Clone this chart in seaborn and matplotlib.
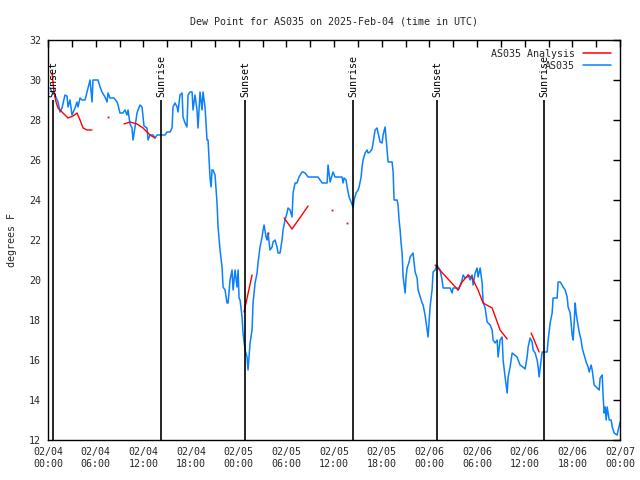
import matplotlib
matplotlib.use('Agg')
import matplotlib.pyplot as plt
import matplotlib.dates as mdates
import seaborn as sns
import pandas as pd
import numpy as np

# hours since 2025-02-04 00:00 UTC
obs_hours = [0.25, 0.50, 0.88, 1.26, 1.51, 1.76, 2.14, 2.39, 2.52, 2.77, 3.02, 3.40, 3.65, 3.78,
             4.03, 4.28, 4.66, 4.91, 5.03, 5.29, 5.54, 5.66, 6.29, 6.55, 6.80, 7.17, 7.43, 7.55,
             7.80, 8.31, 8.69, 8.81, 9.06, 9.44, 9.69, 9.94, 10.07, 10.32, 10.57, 10.70, 10.95,
             11.20, 11.33, 11.58, 11.83, 12.08, 12.46, 12.59, 12.84, 13.22, 13.47, 13.72, 14.73,
             14.98, 15.36, 15.61, 15.73, 15.99, 16.24, 16.36, 16.61, 16.87, 16.99, 17.24, 17.49,
             17.62, 17.87, 18.13, 18.25, 18.50, 18.75, 18.88, 19.13, 19.38, 19.51, 19.76, 20.01,
             20.14, 20.26, 20.39, 20.52, 20.64, 20.77, 21.02, 21.27, 21.40, 21.65, 21.90, 22.03,
             22.28, 22.53, 22.66, 22.91, 23.16, 23.29, 23.54, 23.79, 23.92, 24.04, 24.17, 24.42,
             24.54, 24.80, 25.05, 25.17, 25.43, 25.68, 25.80, 26.06, 26.31, 26.43, 26.68, 26.94,
             27.06, 27.19, 27.44, 27.57, 27.69, 27.94, 28.20, 28.32, 28.57, 28.82, 28.95, 29.20,
             29.45, 29.58, 29.83, 30.08, 30.21, 30.46, 30.71, 30.84, 31.09, 31.34, 31.59, 31.97,
             32.10, 32.35, 32.73, 33.98, 34.24, 34.49, 35.12, 35.24, 35.50, 35.75, 35.87, 36.12,
             37.01, 37.13, 37.26, 37.51, 37.64, 37.89, 38.14, 38.39, 38.52, 38.77, 39.02, 39.15,
             39.40, 39.52, 39.65, 39.90, 40.15, 40.28, 40.53, 40.78, 40.91, 41.16, 41.41, 41.54,
             41.79, 42.04, 42.17, 42.42, 42.67, 42.80, 43.30, 43.43, 43.55, 43.93, 44.05, 44.18,
             44.31, 44.43, 44.56, 44.69, 44.94, 45.06, 45.19, 45.44, 45.57, 45.94, 46.20, 46.45,
             46.57, 47.08, 47.20, 47.45, 47.71, 47.83, 47.96, 48.08, 48.33, 48.46, 48.71, 48.96,
             49.09, 49.34, 49.59, 49.72, 50.60, 50.85, 50.98, 51.48, 51.61, 51.98, 52.11, 52.24,
             52.49, 52.74, 52.87, 53.12, 53.37, 53.49, 53.75, 54.00, 54.12, 54.38, 54.63, 54.75,
             55.01, 55.26, 55.64, 55.89, 56.01, 56.27, 56.52, 56.64, 56.89, 57.15, 57.27, 57.52,
             57.78, 57.90, 58.15, 58.41, 59.03, 59.16, 59.41, 59.91, 60.04, 60.29, 60.42, 60.67,
             60.92, 61.05, 61.30, 61.55, 61.68, 61.80, 62.06, 62.18, 62.81, 62.94, 63.19, 63.44,
             63.56, 64.07, 64.19, 64.45, 64.70, 64.82, 65.08, 65.33, 65.45, 65.71, 65.96, 66.08,
             66.21, 66.34, 66.46, 66.59, 66.84, 67.09, 67.22, 67.47, 67.72, 67.97, 68.10, 68.35,
             68.48, 68.73, 69.36, 69.48, 69.74, 69.86, 69.99, 70.12, 70.24, 70.37, 70.62, 70.87,
             71.00, 71.25, 71.62, 71.75, 72.00]
obs_dewpt = [29.6, 29.4, 29.25, 28.9, 28.4, 28.6, 29.25, 29.2, 28.65, 29.0, 28.25, 28.6, 28.9, 28.65,
             29.1, 29.0, 29.0, 29.4, 29.6, 30.0, 28.9, 30.0, 30.0, 29.65, 29.4, 29.15, 28.9, 29.35,
             29.1, 29.1, 28.9, 28.75, 28.35, 28.35, 28.5, 28.25, 28.5, 27.8, 27.6, 27.0, 27.65,
             28.35, 28.5, 28.75, 28.65, 27.7, 27.6, 27.0, 27.25, 27.25, 27.1, 27.25, 27.25,
             27.4, 27.4, 27.6, 28.65, 28.85, 28.65, 28.4, 29.25, 29.35, 28.15, 27.85, 27.65,
             29.25, 29.4, 29.4, 28.5, 29.25, 28.5, 27.6, 29.4, 28.5, 29.4, 28.65, 27.0,
             27.0, 26.1, 25.1, 24.65, 25.5, 25.5, 25.25, 23.85, 22.65, 21.5, 20.65, 19.65,
             19.5, 18.85, 18.85, 20.0, 20.5, 19.5, 20.5, 19.65, 20.5, 19.1, 19.0, 18.15,
             17.35, 16.5, 16.15, 15.5, 16.85, 17.5, 18.85, 19.85, 20.35, 20.85, 21.65, 22.15,
             22.5, 22.75, 22.15, 22.0, 22.35, 21.5, 21.65, 21.9, 22.0, 21.65, 21.35, 21.35,
             22.0, 22.5, 23.0, 23.35, 23.6, 23.5, 23.15, 24.35, 24.85, 24.85, 25.15, 25.4,
             25.4, 25.35, 25.15, 25.15, 25.0, 24.85, 24.85, 25.75, 24.9, 25.25, 25.4, 25.15,
             25.15, 24.85, 25.1, 25.0, 24.65, 24.15, 23.9, 23.65, 24.0, 24.35, 24.5, 24.65,
             25.15, 25.65, 26.0, 26.35, 26.5, 26.35, 26.4, 26.55, 26.85, 27.5, 27.6, 27.35,
             26.9, 26.85, 27.25, 27.65, 26.5, 25.9, 25.9, 25.4, 24.0, 24.0, 23.75, 23.0,
             22.5, 21.85, 21.35, 20.15, 19.35, 20.15, 20.6, 20.9, 21.15, 21.35, 20.4, 20.1,
             19.5, 18.85, 18.75, 18.25, 17.5, 17.15, 17.9, 18.65, 19.5, 20.4, 20.5, 20.75,
             20.65, 20.5, 20.0, 19.6, 19.6, 19.35, 19.6, 19.6, 19.5, 19.85, 20.0, 20.25,
             20.1, 20.15, 20.25, 20.0, 20.25, 19.75, 20.35, 20.6, 20.15, 20.6, 19.85, 18.9,
             18.6, 17.9, 17.75, 17.5, 17.0, 16.85, 17.0, 16.15, 17.0, 17.15, 16.0, 15.15,
             14.35, 15.15, 15.65, 16.35, 16.15, 16.0, 15.75, 15.6, 15.55, 16.15, 16.65, 17.1,
             16.9, 16.5, 16.35, 16.0, 15.65, 15.15, 16.0, 16.4, 16.4, 17.0, 17.85, 18.35,
             19.1, 19.1, 19.9, 19.9, 19.75, 19.65, 19.5, 19.15, 18.65, 18.35, 17.25, 17.0,
             17.85, 18.85, 18.35, 18.0, 17.4, 17.0, 16.6, 16.25, 15.9, 15.65, 15.4, 15.75,
             15.5, 14.75, 14.5, 15.1, 15.25, 14.15, 13.35, 13.65, 13.0, 13.65, 13.0, 13.0,
             12.65, 12.35, 12.25, 12.5, 12.9]

nan = np.nan
anl_hours = [0.50, 0.76, 1.01, 1.26, 1.76, 2.52, 3.15, 3.65, 4.03, 4.41, 4.91, 5.54, 6.5,
             7.55, 8.5,
             9.57, 10.32, 11.20, 11.96, 12.84, 13.47, 18.0,
             24.67, 25.68, 26.5,
             27.69, 28.5,
             29.71, 30.71, 32.73, 34.0,
             35.75, 36.5,
             37.64, 40.0,
             48.71, 51.61, 52.11, 52.87, 53.37, 54.12, 54.75, 55.89, 56.89, 57.78, 59.0,
             60.80, 61.80]
anl_dewpt = [30.35, 29.4, 28.9, 28.6, 28.4, 28.1, 28.2, 28.35, 28.0, 27.6, 27.5, 27.5, nan,
             28.15, nan,
             27.8, 27.9, 27.8, 27.6, 27.25, 27.1, nan,
             18.4, 20.25, nan,
             22.35, nan,
             23.1, 22.55, 23.7, nan,
             23.5, nan,
             22.85, nan,
             20.75, 19.5, 19.9, 20.25, 20.1, 19.5, 18.85, 18.6, 17.5, 17.05, nan,
             17.35, 16.4]

event_hours = [0.63, 14.22, 24.80, 38.39, 48.96, 62.43]
event_labels = ['Sunset', 'Sunrise', 'Sunset', 'Sunrise', 'Sunset', 'Sunrise']

start = pd.Timestamp('2025-02-04 00:00')
obs = pd.DataFrame({'time': start + pd.to_timedelta(obs_hours, unit='h'), 'dewpt': obs_dewpt})
anl = pd.DataFrame({'time': start + pd.to_timedelta(anl_hours, unit='h'), 'dewpt': anl_dewpt})
event_time = start + pd.to_timedelta(event_hours, unit='h')

# analysis values standing alone between gaps show up as single dots
vals = anl['dewpt'].to_numpy()
prev_nan = np.r_[True, np.isnan(vals[:-1])]
next_nan = np.r_[np.isnan(vals[1:]), True]
lone = anl[~np.isnan(vals) & prev_nan & next_nan]

sns.set_theme(style='white')
plt.rcParams['font.family'] = ['DejaVu Sans Mono']
fs = 7.2

fig = plt.figure(figsize=(6.4, 4.8), dpi=100)
ax = fig.add_axes([0.075, 0.0833, 0.894, 0.8334])

blue = '#0a80ff'
sns.lineplot(data=obs, x='time', y='dewpt', ax=ax, color=blue, linewidth=1.1, label='AS035')
ax.plot(anl['time'], anl['dewpt'], color='red', linewidth=1.0, label='AS035 Analysis')
ax.plot(lone['time'], lone['dewpt'], linestyle='none', marker='s', markersize=1.3,
        markeredgewidth=0, color='red')

for t, lab in zip(event_time, event_labels):
    ax.vlines(t, 12, 29.0, color='black', linewidth=1.2)
    ax.text(t, 29.15, lab, rotation=90, ha='center', va='bottom', fontsize=fs, color='black')

ax.set_xlim(start, start + pd.Timedelta(hours=72))
ax.set_ylim(12, 32)
ax.set_yticks(np.arange(12, 33, 2))
ax.xaxis.set_major_locator(mdates.HourLocator(byhour=[0, 6, 12, 18]))
ax.xaxis.set_minor_locator(mdates.HourLocator(byhour=[3, 9, 15, 21]))
ax.xaxis.set_major_formatter(mdates.DateFormatter('%m/%d\n%H:%M'))

ax.tick_params(axis='both', which='both', direction='in', top=True, right=True,
               length=5, width=1, color='black', labelsize=fs, pad=5)
for s in ax.spines.values():
    s.set_color('black')
    s.set_linewidth(1)

ax.set_xlabel('')
ax.set_ylabel('degrees F', fontsize=fs)
ax.yaxis.set_label_coords(-0.055, 0.5)
ax.set_title('Dew Point for AS035 on 2025-Feb-04 (time in UTC)', fontsize=fs, pad=11)

h, l = ax.get_legend_handles_labels()
order = [l.index('AS035 Analysis'), l.index('AS035')]
ax.legend([h[i] for i in order], [l[i] for i in order], loc='upper right', frameon=False,
          markerfirst=False, fontsize=fs, handlelength=2.8, handletextpad=0.8,
          labelspacing=0.2, borderaxespad=0.6, borderpad=0.3)
for line in ax.get_legend().get_lines():
    line.set_linewidth(1.1)

fig.savefig('out.png', dpi=100)
